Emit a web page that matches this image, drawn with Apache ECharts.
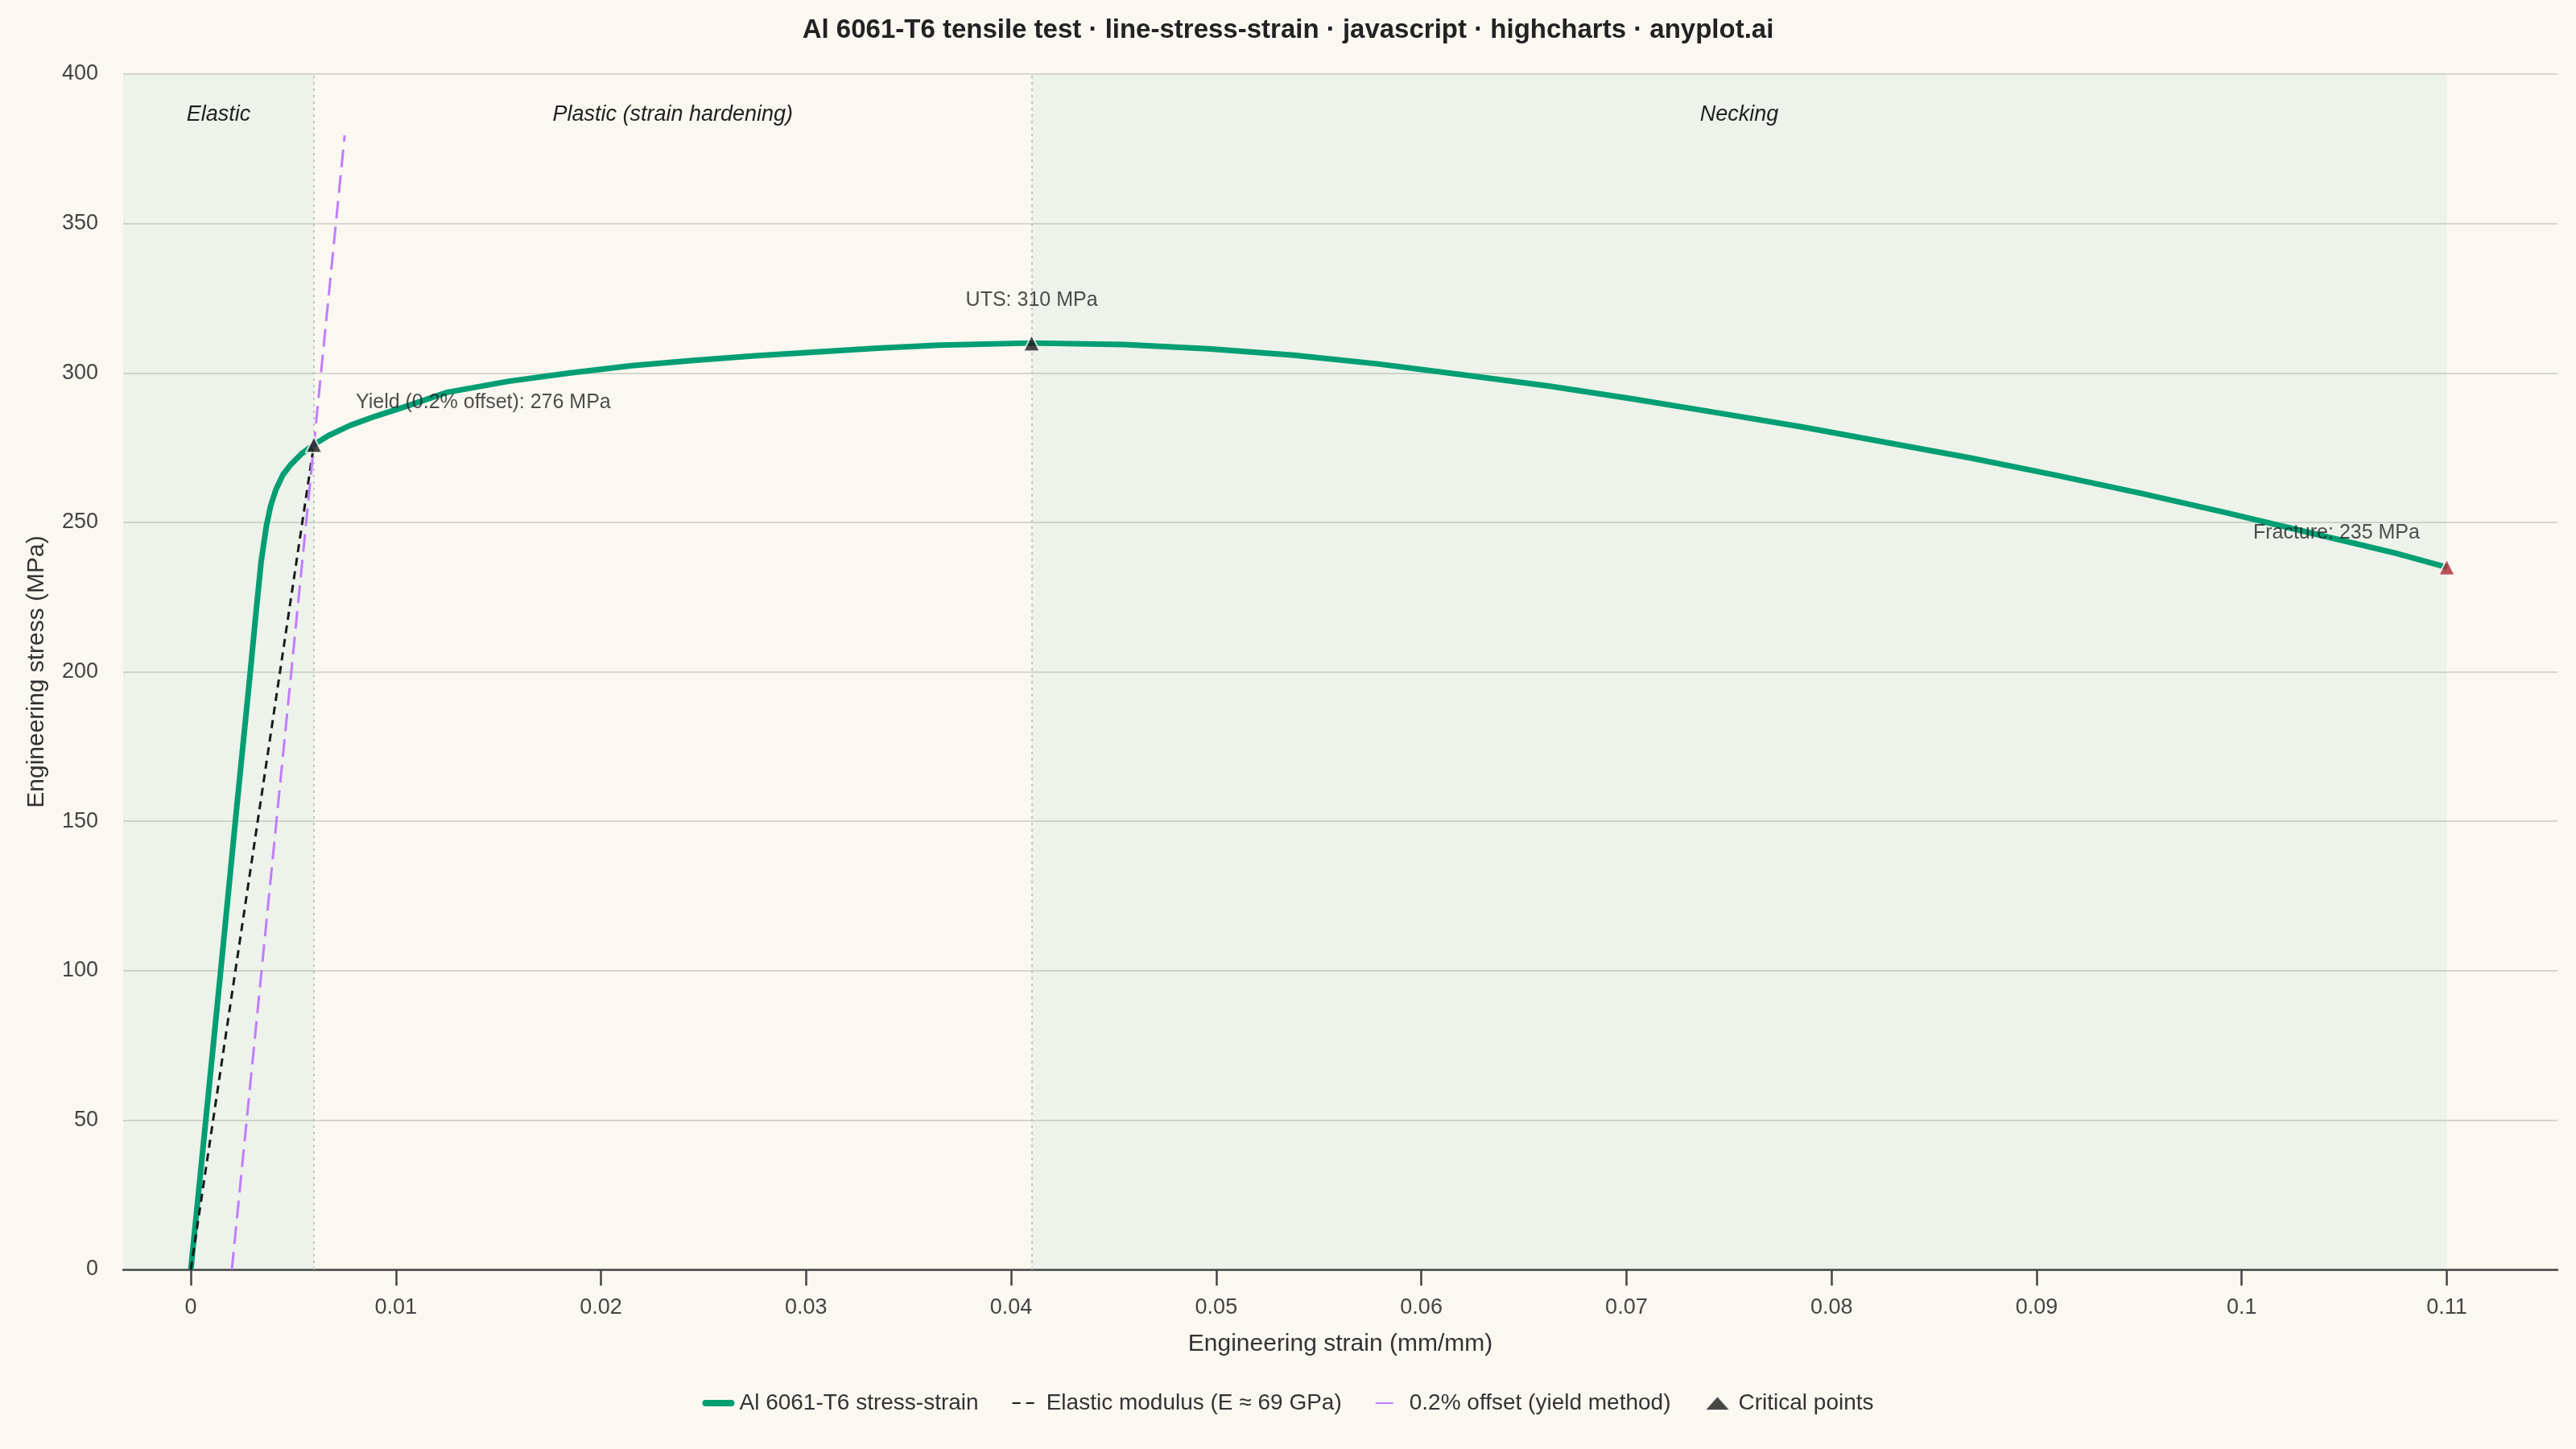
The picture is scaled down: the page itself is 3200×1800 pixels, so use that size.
<!DOCTYPE html>
<html>
<head>
<meta charset="utf-8">
<title>Al 6061-T6 stress-strain</title>
<script src="https://cdn.jsdelivr.net/npm/echarts@6.0.0/dist/echarts.min.js"></script>
<style>
  * { margin: 0; padding: 0; }
  html, body { width: 100%; height: 100%; background: #faf8f1; }
</style>
</head>
<body>
<div id="main" style="width: 100%; height: 100vh;"></div>
<script type="text/javascript">
var strainValues = [0, 0.0007, 0.0015, 0.0022, 0.0029, 0.00318, 0.00343, 0.00369, 0.00389, 0.00415,
  0.00448, 0.00487, 0.00539, 0.0060, 0.0067, 0.00775, 0.0090, 0.0104, 0.0125, 0.0155,
  0.0185, 0.0215, 0.0245, 0.0275, 0.0305, 0.0335, 0.0365, 0.0410, 0.0455, 0.0496,
  0.0538, 0.0579, 0.0620, 0.0662, 0.0703, 0.0744, 0.0786, 0.0827, 0.0868, 0.0910,
  0.0951, 0.0992, 0.1034, 0.1075, 0.1100];
var stressValues = [0, 48, 103, 152, 200, 220, 237, 249, 255.5, 261,
  265.8, 269.3, 272.9, 276, 279, 282.4, 285.5, 288.6, 293.5, 297.2,
  300.0, 302.4, 304.2, 305.7, 307.0, 308.3, 309.3, 310, 309.5, 308.1,
  305.9, 303.0, 299.4, 295.6, 291.3, 286.7, 281.9, 276.7, 271.5, 265.7,
  259.7, 253.3, 246.4, 239.7, 235];

var elasticLine = [[0, 0], [0.006, 276]];
var offsetLine = [[0.002, 0], [0.0075, 379.5]];

var pointStrain = [0.006, 0.041, 0.11];
var pointStress = [276, 310, 235];
var pointLabels = ['Yield (0.2% offset): 276 MPa', 'UTS: 310 MPa', 'Fracture: 235 MPa'];
var pointColors = ['#1a1a1a', '#1a1a1a', '#a8282f'];
var labelOffsets = [[52, -52], [0, -53], [-137, -42]];
var labelAligns = ['left', 'center', 'center'];

var regionNames = ['Elastic', 'Plastic (strain hardening)', 'Necking'];
var regionBounds = [-0.0033, 0.006, 0.041, 0.11];
var regionFills = ['rgba(88,173,154,0.08)', 'rgba(0,0,0,0)', 'rgba(88,173,154,0.08)'];

var strainTicks = [0, 0.01, 0.02, 0.03, 0.04, 0.05, 0.06, 0.07, 0.08, 0.09, 0.1, 0.11];

var font = "'Liberation Sans', Arial, Helvetica, sans-serif";

var curveData = strainValues.map(function (s, i) { return [s, stressValues[i]]; });

var areaData = regionNames.map(function (name, i) {
    return [
        { name: name, xAxis: regionBounds[i], itemStyle: { color: regionFills[i] } },
        { xAxis: regionBounds[i + 1] }
    ];
});

var pointData = pointStrain.map(function (s, i) {
    return {
        name: pointLabels[i],
        value: [s, pointStress[i]],
        itemStyle: { color: pointColors[i] },
        label: { offset: labelOffsets[i], align: labelAligns[i] }
    };
});

var myChart = echarts.init(document.getElementById('main'));

var option = {
    backgroundColor: '#faf8f1',
    animation: false,
    textStyle: { fontFamily: font },
    title: {
        text: 'Al 6061-T6 tensile test \u00b7 line-stress-strain \u00b7 javascript \u00b7 highcharts \u00b7 anyplot.ai',
        left: 'center',
        top: 16,
        textStyle: { fontFamily: font, fontSize: 33, fontWeight: 'bold', color: '#222' }
    },
    legend: {
        top: 1724,
        left: 'center',
        itemWidth: 32,
        itemHeight: 18,
        itemGap: 41,
        textStyle: { fontFamily: font, fontSize: 28, color: '#333', padding: [0, 0, 0, 5] },
        data: [
            { name: 'Al 6061-T6 stress-strain', itemStyle: { opacity: 0 }, lineStyle: { cap: 'round', width: 8 } },
            { name: 'Elastic modulus (E \u2248 69 GPa)', itemStyle: { opacity: 0 } },
            { name: '0.2% offset (yield method)', itemStyle: { opacity: 0 } },
            { name: 'Critical points', icon: 'triangle', itemStyle: { color: '#1a1a1a' } }
        ]
    },
    grid: { left: 153, right: 23, top: 92, bottom: 223 },
    xAxis: {
        type: 'value',
        min: -0.0033,
        max: 0.1154,
        name: 'Engineering strain (mm/mm)',
        nameLocation: 'middle',
        nameGap: 78,
        nameTextStyle: { fontFamily: font, fontSize: 30, color: '#333' },
        axisLine: { show: true, lineStyle: { color: '#444', width: 2.5 } },
        axisTick: { show: true, length: 20, lineStyle: { color: '#444', width: 2.5 }, customValues: strainTicks },
        axisLabel: {
            customValues: strainTicks,
            fontSize: 27,
            color: '#444',
            margin: 34,
            formatter: function (v) { return String(Math.round(v * 100) / 100); }
        },
        splitLine: { show: false }
    },
    yAxis: {
        type: 'value',
        min: 0,
        max: 400,
        interval: 50,
        name: 'Engineering stress (MPa)',
        nameLocation: 'middle',
        nameGap: 92,
        nameTextStyle: { fontFamily: font, fontSize: 30, color: '#333' },
        axisLine: { show: false },
        axisTick: { show: false },
        axisLabel: { fontSize: 27, color: '#444', margin: 31 },
        splitLine: { lineStyle: { color: '#d6d7cf', width: 2 } }
    },
    series: [
        {
            name: 'Al 6061-T6 stress-strain',
            type: 'line',
            data: curveData,
            symbol: 'none',
            smooth: false,
            lineStyle: { color: '#009e73', width: 7, join: 'round' },
            itemStyle: { color: '#009e73' },
            z: 3,
            markArea: {
                silent: true,
                label: {
                    show: true,
                    position: 'insideTop',
                    distance: 37,
                    fontFamily: font,
                    fontStyle: 'italic',
                    fontSize: 27,
                    color: '#222'
                },
                data: areaData
            },
            markLine: {
                silent: true,
                precision: 4,
                symbol: ['none', 'none'],
                label: { show: false },
                lineStyle: { color: '#c3c4bc', width: 2, type: [3, 5] },
                data: [{ xAxis: regionBounds[1] }, { xAxis: regionBounds[2] }]
            }
        },
        {
            name: 'Elastic modulus (E \u2248 69 GPa)',
            type: 'line',
            data: elasticLine,
            symbol: 'none',
            lineStyle: { color: '#1a1a1a', width: 3, type: [10, 7] },
            itemStyle: { color: '#1a1a1a' },
            z: 4
        },
        {
            name: '0.2% offset (yield method)',
            type: 'line',
            data: offsetLine,
            symbol: 'none',
            lineStyle: { color: '#c07cff', width: 3, type: [22, 10] },
            itemStyle: { color: '#c07cff' },
            z: 4
        },
        {
            name: 'Critical points',
            type: 'scatter',
            data: pointData,
            symbol: 'triangle',
            symbolSize: 20,
            itemStyle: { borderColor: '#ffffff', borderWidth: 2 },
            label: {
                show: true,
                position: 'inside',
                formatter: '{b}',
                fontFamily: font,
                fontSize: 25,
                color: '#222'
            },
            z: 5
        }
    ]
};

myChart.setOption(option);
</script>
</body>
</html>
